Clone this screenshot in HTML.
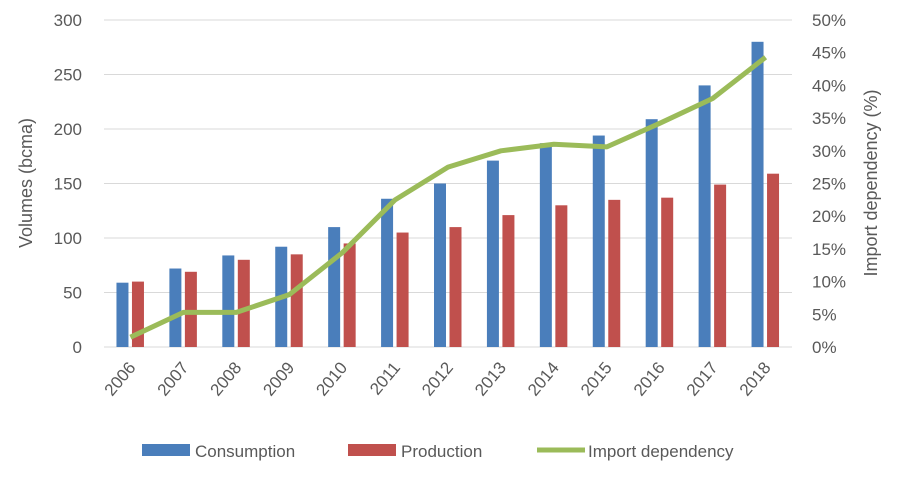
<!DOCTYPE html>
<html><head><meta charset="utf-8"><style>
body{margin:0;background:#fff;}
svg text{font-family:"Liberation Sans",sans-serif;fill:#595959;}
</style></head><body>
<svg width="904" height="480" id="c"></svg>
<script>
const categories=["2006","2007","2008","2009","2010","2011","2012","2013","2014","2015","2016","2017","2018"];
const consumption=[59,72,84,92,110,136,150,171,187,194,209,240,280];
const production=[60,69,80,85,95,105,110,121,130,135,137,149,159];
const importDep=[1.5,5.3,5.3,8,14.4,22.5,27.5,30,31,30.6,34.2,38,44.3];
const leftTicks=[0,50,100,150,200,250,300];
const rightTicks=["0%","5%","10%","15%","20%","25%","30%","35%","40%","45%","50%"];
const NS="http://www.w3.org/2000/svg";
const svg=document.getElementById('c');
const x0=104,x1=792,yB=347,yT=20;
const bw=(x1-x0)/categories.length;
const yL=v=>yB-(v/300)*(yB-yT);
const yR=v=>yB-(v/50)*(yB-yT);
const xC=i=>x0+bw*(i+0.5);
function mk(t,a,txt){const e=document.createElementNS(NS,t);for(const k in a)e.setAttribute(k,a[k]);if(txt!==undefined)e.textContent=txt;svg.appendChild(e);return e;}
leftTicks.forEach(v=>{
 const g=mk('line',{x1:x0,x2:x1,y1:yL(v),y2:yL(v),stroke:'#d9d9d9','stroke-width':1});
 
 
 const t=mk('text',{x:82,y:yL(v)+6,'text-anchor':'end','font-size':17},v);
 
 
});
rightTicks.forEach((s,i)=>{
 const t=mk('text',{x:812,y:yR(i*5)+6,'font-size':17},s);
 
 
});
categories.forEach((c,i)=>{
 const cx=xC(i);
 const b=mk('rect',{x:cx-14,y:yL(consumption[i]),width:12,height:yB-yL(consumption[i]),fill:'#4a7ebb'});
 
 
 const r=mk('rect',{x:cx+1.5,y:yL(production[i]),width:12,height:yB-yL(production[i]),fill:'#c0504d'});
 
 
 const t=mk('text',{x:cx+6,y:368,'text-anchor':'end','font-size':17,transform:`rotate(-50 ${cx+6} 368)`},c);
 
 
});
const pts=importDep.map((v,i)=>xC(i)+','+yR(v)).join(' ');
const pl=mk('polyline',{points:pts,fill:'none',stroke:'#9bbb59','stroke-width':5,'stroke-linejoin':'round'});


const lt=mk('text',{x:32,y:183,'text-anchor':'middle','font-size':18,transform:'rotate(-90 32 183)'},'Volumes (bcma)');


const rt=mk('text',{x:877,y:183,'text-anchor':'middle','font-size':18,transform:'rotate(-90 877 183)'},'Import dependency (%)');


const l1=mk('rect',{x:142,y:444,width:48,height:12,fill:'#4a7ebb'});


const l1t=mk('text',{x:195,y:457,'font-size':17},'Consumption');


const l2=mk('rect',{x:348,y:444,width:48,height:12,fill:'#c0504d'});


const l2t=mk('text',{x:401,y:457,'font-size':17},'Production');


const l3=mk('line',{x1:537,x2:585,y1:450,y2:450,stroke:'#9bbb59','stroke-width':5});


const l3t=mk('text',{x:588,y:457,'font-size':17},'Import dependency');


</script>
</body></html>
